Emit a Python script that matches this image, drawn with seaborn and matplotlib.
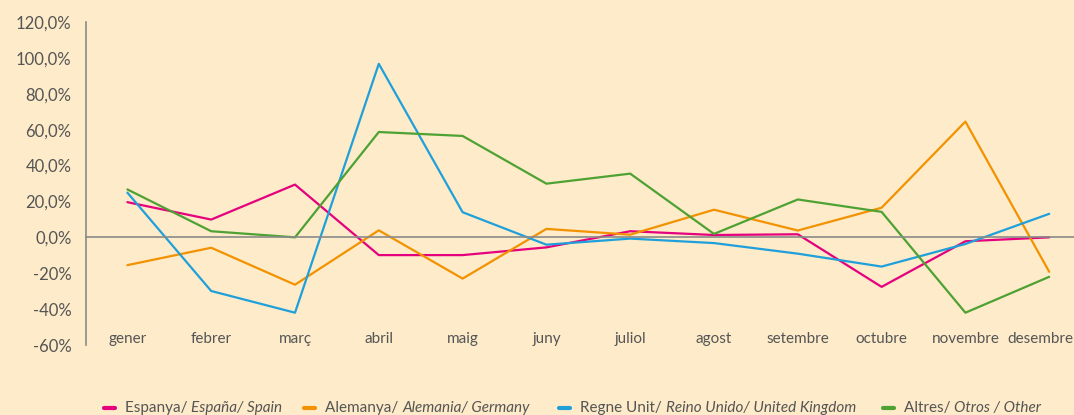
import matplotlib
matplotlib.use("Agg")
import matplotlib.pyplot as plt
from matplotlib.lines import Line2D
from matplotlib.ticker import FixedLocator
from matplotlib.transforms import ScaledTranslation
import seaborn as sns
import pandas as pd

# --- dades ---
mesos = ["gener", "febrer", "març", "abril", "maig", "juny", "juliol",
         "agost", "setembre", "octubre", "novembre", "desembre"]
espanya = [19.6, 9.9, 29.4, -9.9, -9.9, -5.6, 3.4, 1.3, 1.7, -27.6, -2.2, 0.0]
alemanya = [-15.5, -5.8, -26.4, 3.9, -23.0, 4.7, 1.5, 15.4, 3.8, 16.5, 64.5, -19.2]
regne_unit = [24.9, -29.9, -42.0, 96.7, 14.0, -4.1, -0.7, -3.2, -9.1, -16.3, -3.7, 13.1]
altres = [26.7, 3.4, 0.0, 58.7, 56.5, 29.9, 35.5, 1.9, 21.1, 14.2, -42.0, -22.0]
y_ticks = [-60, -40, -20, 0, 20, 40, 60, 80, 100, 120]
y_labels = ["-60%", "-40%", "-20%", "0,0%", "20,0%", "40,0%", "60,0%",
            "80,0%", "100,0%", "120,0%"]

series = ["Espanya", "Alemanya", "Regne Unit", "Altres"]
colors = ["#E5007D", "#F39200", "#1FA0DB", "#4EA133"]
legend_normal = ["Espanya/ ", "Alemanya/ ", "Regne Unit/ ", "Altres/ "]
legend_italic = ["España/ Spain", "Alemania/ Germany",
                 "Reino Unido/ United Kingdom", "Otros / Other"]

df = pd.DataFrame({
    "mes": list(range(len(mesos))) * 4,
    "valor": espanya + alemanya + regne_unit + altres,
    "serie": [s for s in series for _ in mesos],
})

bg = "#FDEBC9"
txt = "#555555"
axcol = "#8A8A8A"

sns.set_theme(style="white")
plt.rcParams["font.family"] = ["Lato", "DejaVu Sans"]

fig = plt.figure(figsize=(10.74, 4.15), dpi=100, facecolor=bg)
ax = fig.add_axes([85.5 / 1074, 70 / 415, 1005.6 / 1074, 323 / 415])
ax.set_facecolor(bg)

sns.lineplot(data=df, x="mes", y="valor", hue="serie", hue_order=series,
             palette=colors, linewidth=1.6, legend=False, ax=ax)

ax.set_xlim(-0.5, 11.5)
ax.set_ylim(-60, 120)
ax.set_yticks(y_ticks)
ax.set_yticklabels(y_labels)
ax.set_xlabel("")
ax.set_ylabel("")

# eix X sobre el zero
for s in ["top", "right"]:
    ax.spines[s].set_visible(False)
ax.spines["bottom"].set_position(("data", 0))
for s in ["bottom", "left"]:
    ax.spines[s].set_color(axcol)
    ax.spines[s].set_linewidth(1.2)

ax.set_xticks(range(len(mesos)))
ax.set_xticklabels(mesos)
ax.xaxis.set_minor_locator(FixedLocator([i + 0.5 for i in range(11)]))
ax.tick_params(axis="x", which="major", length=0, pad=68, labelsize=11,
               labelcolor=txt)
ax.tick_params(axis="x", which="minor", length=4, width=1, color=axcol,
               direction="out")
ax.tick_params(axis="y", length=4, width=1, color=axcol, direction="out",
               labelsize=12, labelcolor=txt, pad=6)

# l'última etiqueta es desplaça per cabre dins la figura
last = ax.get_xticklabels()[-1]
last.set_transform(last.get_transform() + ScaledTranslation(-9 / 100, 0, fig.dpi_scale_trans))

# llegenda
starts = [104, 304, 559, 883]
fig.canvas.draw()
renderer = fig.canvas.get_renderer()
ly = 1 - 408 / 415
for x0, c, n, it in zip(starts, colors, legend_normal, legend_italic):
    fig.add_artist(Line2D([x0 / 1074, (x0 + 11) / 1074], [ly, ly],
                          color=c, linewidth=3, transform=fig.transFigure))
    t = fig.text((x0 + 21) / 1074, ly, n, fontsize=11, color=txt,
                 va="center", ha="left")
    w = t.get_window_extent(renderer).width
    fig.text((x0 + 21 + w) / 1074, ly, it, fontsize=11, color=txt,
             style="italic", va="center", ha="left")

fig.savefig("out.png", dpi=100, facecolor=bg)
